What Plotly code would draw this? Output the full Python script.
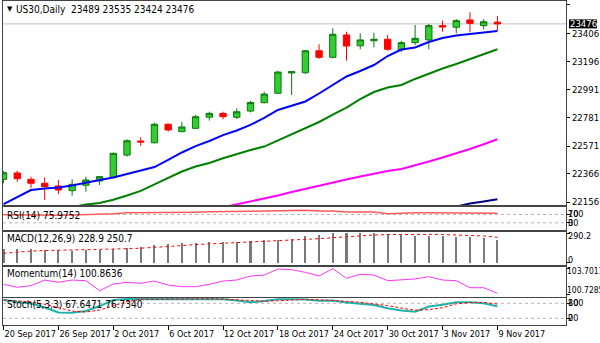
import plotly.graph_objects as go
from plotly.subplots import make_subplots

# ---- daily bars -------------------------------------------------------------
symbol = "US30,Daily"
dates = [
    "20 Sep 2017", "21 Sep 2017", "22 Sep 2017", "25 Sep 2017", "26 Sep 2017",
    "27 Sep 2017", "28 Sep 2017", "29 Sep 2017", "2 Oct 2017", "3 Oct 2017",
    "4 Oct 2017", "5 Oct 2017", "6 Oct 2017", "9 Oct 2017", "10 Oct 2017",
    "11 Oct 2017", "12 Oct 2017", "13 Oct 2017", "16 Oct 2017", "17 Oct 2017",
    "18 Oct 2017", "19 Oct 2017", "20 Oct 2017", "23 Oct 2017", "24 Oct 2017",
    "25 Oct 2017", "26 Oct 2017", "27 Oct 2017", "30 Oct 2017", "31 Oct 2017",
    "1 Nov 2017", "2 Nov 2017", "3 Nov 2017", "6 Nov 2017", "7 Nov 2017",
    "8 Nov 2017", "9 Nov 2017",
]
open_ = [22324, 22371, 22324, 22295, 22275, 22240, 22280, 22312, 22339, 22504,
         22608, 22595, 22732, 22677, 22702, 22784, 22813, 22784, 22830, 22892,
         22962, 23112, 23114, 23277, 23228, 23394, 23314, 23351, 23362, 23285,
         23337, 23357, 23463, 23451, 23505, 23463, 23489]
high = [22386, 22388, 22344, 22339, 22319, 22324, 22344, 22349, 22522, 22621,
        22636, 22744, 22739, 22751, 22801, 22825, 22825, 22850, 22905, 22973,
        23129, 23125, 23283, 23325, 23443, 23418, 23406, 23411, 23394, 23349,
        23468, 23475, 23500, 23512, 23562, 23512, 23535]
low = [22296, 22306, 22258, 22171, 22213, 22203, 22232, 22282, 22335, 22492,
       22573, 22591, 22677, 22675, 22700, 22759, 22769, 22771, 22820, 22887,
       22956, 22949, 23105, 23216, 23221, 23203, 23288, 23302, 23277, 23268,
       23320, 23288, 23418, 23406, 23414, 23436, 23424]
close = [22373, 22329, 22295, 22270, 22245, 22287, 22319, 22344, 22517, 22610,
         22601, 22732, 22690, 22712, 22788, 22813, 22788, 22825, 22893, 22956,
         23119, 23122, 23277, 23228, 23399, 23312, 23357, 23362, 23288, 23337,
         23369, 23463, 23453, 23500, 23480, 23492, 23476]

# ---- moving averages (None where the line sits below the visible range) -----
ma_fast = [22141, 22193, 22245, 22256, 22263, 22278, 22301, 22319, 22338, 22364,
           22386, 22415, 22469, 22523, 22570, 22608, 22652, 22686, 22727, 22779,
           22838, 22871, 22901, 22960, 23023, 23086, 23127, 23171, 23238, 23286,
           23301, 23342, 23371, 23390, 23401, 23412, 23423]
ma_mid = [None, None, None, None, None, 22118, 22137, 22149, 22173, 22204,
          22238, 22286, 22334, 22382, 22419, 22445, 22480, 22512, 22541, 22567,
          22612, 22656, 22701, 22749, 22804, 22856, 22919, 22971, 23005, 23023,
          23068, 23108, 23145, 23179, 23216, 23253, 23288]
ma_slow = [None] * 16 + [22117, 22139, 22160, 22180, 22204, 22230, 22254, 22278,
                         22304, 22323, 22345, 22367, 22386, 22401, 22427, 22456,
                         22486, 22516, 22549, 22584, 22621]
ma_long = [None] * 33 + [22122, 22145, 22160, 22176]

# ---- oscillators -------------------------------------------------------------
rsi = [69, 68, 68, 67, 67, 68, 69, 71, 74, 78, 78, 80, 80, 80, 81, 83, 83, 85,
       86, 87, 89, 90, 90, 87, 87, 82, 82, 82, 74, 77, 78, 79, 78, 79, 78, 78,
       75.9752]
macd_main = [140, 135, 135, 125, 125, 118, 125, 125, 132, 148, 158, 172, 185,
             191, 197, 204, 204, 204, 211, 224, 224, 237, 266, 273, 290, 290.2,
             290, 289, 280, 273, 266, 266, 266, 257, 257, 247, 228.9]
macd_signal = [93, 106, 115, 120, 123, 125, 125, 125, 130, 138, 143, 150, 159,
               169, 179, 185, 192, 198, 204, 211, 217, 222, 227, 237, 247, 257,
               267, 273, 278, 280, 281, 280, 278, 275, 271, 264, 250.7]
momentum = [101.90, 101.56, 101.74, 102.40, 102.13, 102.40, 102.32, 101.17,
            101.94, 102.13, 102.02, 102.28, 101.82, 101.63, 101.63, 101.90,
            102.28, 102.40, 102.86, 102.97, 103.66, 103.59, 103.28, 102.86,
            103.7011, 102.59, 103.06, 102.97, 102.32, 102.40, 102.52, 102.78,
            102.40, 102.32, 101.51, 101.51, 100.8636]
stoch_k = [93, 87, 79, 63, 43, 42, 49, 69, 93, 97, 97, 97, 98, 98, 98, 97, 96,
           91, 84, 89, 96, 96, 95, 90, 91, 83, 79, 73, 60, 51, 46, 67, 74, 84,
           84, 80, 67.6471]
stoch_d = [93, 90, 86, 76, 62, 49, 45, 53, 70, 86, 96, 97, 97, 98, 98, 98, 97,
           95, 90, 88, 90, 94, 96, 94, 92, 88, 84, 78, 71, 61, 52, 55, 62, 78,
           83, 84, 76.734]

price_ticks = [23616, 23406, 23196, 22991, 22781, 22571, 22366, 22156]

x = list(range(len(dates)))

FONT = "Liberation Sans Narrow, DejaVu Sans Condensed, Liberation Sans, sans-serif"
FRAME = "#444444"
W, H = 600, 343
ML, MR, MT, MB = 3, 34, 1, 18
PW, PH = W - ML - MR, H - MT - MB


def px_x(px):
    return (px - ML) / PW


def px_y(py):
    return (H - MB - py) / PH


fig = make_subplots(rows=5, cols=1, shared_xaxes=True, vertical_spacing=0)

# price panel
fig.add_trace(go.Candlestick(
    x=x, open=open_, high=high, low=low, close=close,
    increasing=dict(fillcolor="#32cd32", line=dict(color="#0b7a0b", width=1)),
    decreasing=dict(fillcolor="#ff0000", line=dict(color="#ff0000", width=1)),
    whiskerwidth=0, showlegend=False, hoverinfo="skip"), row=1, col=1)
for vals, color in [(ma_long, "#000080"), (ma_slow, "#ff00ff"),
                    (ma_mid, "#008000"), (ma_fast, "#0000ff")]:
    fig.add_trace(go.Scatter(x=x, y=vals, mode="lines",
                             line=dict(color=color, width=2),
                             showlegend=False, hoverinfo="skip"), row=1, col=1)

# RSI
fig.add_trace(go.Scatter(x=x, y=rsi, mode="lines",
                         line=dict(color="#ff5a5a", width=1.5),
                         showlegend=False, hoverinfo="skip"), row=2, col=1)
# MACD
fig.add_trace(go.Bar(x=x, y=macd_main, width=0.15,
                     marker=dict(color="#7a7a7a", line=dict(width=0)),
                     showlegend=False, hoverinfo="skip"), row=3, col=1)
fig.add_trace(go.Scatter(x=x, y=macd_signal, mode="lines",
                         line=dict(color="#ff0000", width=1, dash="dot"),
                         showlegend=False, hoverinfo="skip"), row=3, col=1)
# Momentum
fig.add_trace(go.Scatter(x=x, y=momentum, mode="lines",
                         line=dict(color="#ff33ff", width=1),
                         showlegend=False, hoverinfo="skip"), row=4, col=1)
# Stochastic
fig.add_trace(go.Scatter(x=x, y=stoch_k, mode="lines",
                         line=dict(color="#20b2aa", width=2),
                         showlegend=False, hoverinfo="skip"), row=5, col=1)
fig.add_trace(go.Scatter(x=x, y=stoch_d, mode="lines",
                         line=dict(color="#ff0000", width=1, dash="3px,2px"),
                         showlegend=False, hoverinfo="skip"), row=5, col=1)

# panel geometry (pixel rows of each window)
panels = [
    ("yaxis", 1, 205, [22133.8, 23645.6]),
    ("yaxis2", 206.5, 229.5, [-2.3, 108.6]),
    ("yaxis3", 231.5, 265, [-22.7, 308]),
    ("yaxis4", 266.5, 296.5, [100.499, 103.955]),
    ("yaxis5", 298, 325, [-6.8, 101.2]),
]
for name, top, bottom, rng in panels:
    fig.layout[name].update(
        domain=[px_y(bottom), px_y(top)], range=rng, side="right",
        showgrid=False, zeroline=False, showline=True, mirror=True,
        linecolor=FRAME, linewidth=1, ticks="outside", ticklen=3,
        tickcolor="#000000", showticklabels=False, fixedrange=True,
        automargin=False)

fig.layout.yaxis.update(tickvals=price_ticks,
                        ticktext=[str(v) for v in price_ticks],
                        showticklabels=True,
                        tickfont=dict(family=FONT, size=9.5, color="#000000"))
fig.layout.yaxis2.tickvals = [70, 30]
fig.layout.yaxis3.tickvals = [290.2, 0]
fig.layout.yaxis4.tickvals = [103.7011, 100.7285]
fig.layout.yaxis5.tickvals = [80, 20]

fig.update_xaxes(range=[-0.04, 41.0], showgrid=False, zeroline=False,
                 showline=True, mirror=True, linecolor=FRAME, linewidth=1,
                 rangeslider_visible=False, showticklabels=False, ticks="",
                 fixedrange=True, automargin=False)
fig.layout.xaxis5.update(
    tickvals=x[::4], ticktext=dates[::4], showticklabels=True,
    ticks="outside", ticklen=4, tickcolor="#000000", tickangle=0,
    ticklabelposition="outside right",
    tickfont=dict(family=FONT, size=9, color="#000000"))

# current price line and indicator levels
fig.add_shape(type="line", xref="x domain", x0=0, x1=1, yref="y",
              y0=close[-1], y1=close[-1], layer="below",
              line=dict(color="#c0c0c0", width=1))
for yref, lvl in [("y2", 70), ("y2", 30), ("y5", 80), ("y5", 20)]:
    fig.add_shape(type="line", xref="x domain", x0=0, x1=1, yref=yref,
                  y0=lvl, y1=lvl, layer="below",
                  line=dict(color="#b4b4b4", width=1, dash="3px,3px"))

# current price tag on the price scale
fig.add_shape(type="rect", xref="paper", x0=px_x(569), x1=px_x(597),
              yref="y", ysizemode="pixel", yanchor=close[-1], y0=-4.5, y1=4.5,
              fillcolor="#000000", line=dict(width=0))

ann = []


def label(text, px, py, size=10, color="#000000", anchor="left"):
    ann.append(dict(text=text, xref="paper", yref="paper", x=px_x(px),
                    y=px_y(py), xanchor=anchor, yanchor="middle",
                    showarrow=False,
                    font=dict(family=FONT, size=size, color=color)))


def scale_label(text, yref, val, shift=0, size=9, xshift=1):
    ann.append(dict(text=text, xref="paper", yref=yref, x=1, y=val,
                    xanchor="left", yanchor="middle", xshift=xshift,
                    yshift=shift, showarrow=False, borderpad=0,
                    font=dict(family=FONT, size=size, color="#000000")))


ann.append(dict(text=f"{close[-1]}", xref="paper", yref="y", x=px_x(583),
                y=close[-1], xanchor="center", yanchor="middle",
                showarrow=False,
                font=dict(family=FONT, size=9.5, color="#ffffff")))

ann.append(dict(text="▼", xref="paper", yref="paper", x=px_x(4.5),
                y=px_y(9), xanchor="left", yanchor="middle", showarrow=False,
                font=dict(family="DejaVu Sans", size=7, color="#000000")))
label(f"{symbol}  {open_[-1]} {high[-1]} {low[-1]} {close[-1]}", 14, 9)
label(f"RSI(14) {rsi[-1]:.4f}", 5, 215)
label(f"MACD(12,26,9) {macd_main[-1]:.1f} {macd_signal[-1]:.1f}", 5, 239)
label(f"Momentum(14) {momentum[-1]:.4f}", 5, 273.5)
label(f"Stoch(5,3,3) {stoch_k[-1]:.4f} {stoch_d[-1]:.4f}", 5, 304.5)

scale_label("100", "y2", 70, 1)
scale_label("70", "y2", 70, 1)
scale_label("30", "y2", 30)
scale_label("0", "y2", 30)
scale_label(f"{max(macd_main):.1f}", "y3", max(macd_main), -3)
scale_label("0", "y3", 0, 3)
scale_label("103.7011", "y4", 103.7011, -2, size=8.5, xshift=0)
scale_label("100.7285", "y4", 100.7285, 5, size=8.5, xshift=0)
scale_label("100", "y5", 80)
scale_label("80", "y5", 80)
scale_label("20", "y5", 20)
scale_label("0", "y5", 20)

fig.update_layout(
    width=W, height=H, autosize=False,
    margin=dict(l=ML, r=MR, t=MT, b=MB, autoexpand=False),
    paper_bgcolor="#ffffff", plot_bgcolor="#ffffff",
    boxgap=0.34, barmode="overlay", bargap=0,
    hovermode=False, showlegend=False,
    annotations=ann,
    font=dict(family=FONT, size=10, color="#000000"),
)

fig.write_html("out.html", config={"displayModeBar": False, "staticPlot": True})
